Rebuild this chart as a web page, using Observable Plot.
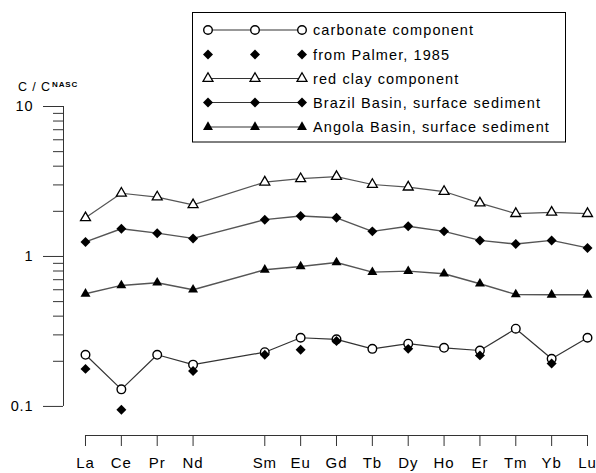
<!DOCTYPE html>
<html><head><meta charset="utf-8">
<script src="https://cdn.jsdelivr.net/npm/d3@7"></script>
<script src="https://cdn.jsdelivr.net/npm/@observablehq/plot@0.6"></script>
<style>
body{margin:0;background:#fff;}
#wrap{position:relative;width:596px;height:473px;}
#wrap svg text{letter-spacing:0.9px;}
#wrap svg text.leg{letter-spacing:1.1px;}
</style></head><body><div id="wrap"></div>
<script>
// ---- data ----
const elements = ["La","Ce","Pr","Nd","Sm","Eu","Gd","Tb","Dy","Ho","Er","Tm","Yb","Lu"];
const atomicNumbers = [57,58,59,60,62,63,64,65,66,67,68,69,70,71];
const carbonate = [0.221,0.130,0.221,0.190,0.230,0.287,0.280,0.242,0.262,0.246,0.236,0.330,0.208,0.287];
const redClay   = [1.81,2.64,2.49,2.21,3.13,3.30,3.41,3.02,2.90,2.71,2.27,1.93,1.97,1.93];
const brazil    = [1.25,1.53,1.43,1.32,1.76,1.86,1.81,1.47,1.59,1.47,1.28,1.21,1.28,1.14];
const angola    = [0.564,0.641,0.668,0.600,0.815,0.858,0.912,0.786,0.798,0.767,0.658,0.558,0.555,0.555];
const palmerElements = ["La","Ce","Nd","Sm","Eu","Gd","Dy","Er","Yb"];
const palmer    = [0.178,0.095,0.172,0.221,0.239,0.273,0.242,0.219,0.193];
const yMajorTicks = [0.1,1,10];
const yMajorLabels = ["0.1","1","10"];
const yMinorTicks = [0.2,0.3,0.4,0.5,0.6,0.7,0.8,0.9,2,3,4,5,6,7,8,9];
const legendLabels = ["carbonate component","from Palmer, 1985","red clay component","Brazil Basin, surface sediment","Angola Basin, surface sediment"];
const yTitle = "C / C";
const yTitleSup = "NASC";

// ---- tables ----
const zOf = Object.fromEntries(elements.map((e,i)=>[e,atomicNumbers[i]]));
const series = (vals) => elements.map((e,i)=>({el:e, z:atomicNumbers[i], v:vals[i]}));
const carbRows = series(carbonate), redRows = series(redClay), brRows = series(brazil), anRows = series(angola);
const palRows = palmerElements.map((e,i)=>({el:e, z:zOf[e], v:palmer[i]}));

const xMin = 56.3865, xMax = 71, yMin = 0.064, yMax = 10;
const lineColor = "#555", font = "'Liberation Sans', Arial, sans-serif";

const chart = Plot.plot({
  width: 596, height: 473,
  marginLeft: 63, marginRight: 9, marginTop: 106, marginBottom: 38,
  style: {fontFamily: font, fontSize: "14px", color: "#000", background: "#fff"},
  x: {domain: [xMin, xMax], axis: null},
  y: {type: "log", domain: [yMin, yMax], axis: null},
  marks: [
    Plot.ruleX([xMin], {y1: yMajorTicks[0], y2: yMajorTicks[2], stroke: "#333"}),
    Plot.ruleY([yMin], {x1: atomicNumbers[0], x2: atomicNumbers[atomicNumbers.length-1], stroke: "#333"}),
    Plot.axisY(yMajorTicks, {anchor: "left", label: null, tickSize: 20, tickPadding: 10, stroke: "#333", tickFormat: (d)=>yMajorLabels[yMajorTicks.indexOf(d)], fontSize: 14.5}),
    Plot.axisY(yMinorTicks, {anchor: "left", label: null, tickSize: 10, stroke: "#333", tickFormat: () => ""}),
    Plot.axisX(atomicNumbers, {anchor: "bottom", label: null, tickSize: 11, tickPadding: 11, stroke: "#333", tickFormat: d => elements[atomicNumbers.indexOf(d)], fontSize: 15}),
    Plot.line(carbRows, {x: "z", y: "v", stroke: "#333", strokeWidth: 1.2}),
    Plot.line(redRows, {x: "z", y: "v", stroke: lineColor, strokeWidth: 1.2}),
    Plot.line(brRows, {x: "z", y: "v", stroke: lineColor, strokeWidth: 1.4}),
    Plot.line(anRows, {x: "z", y: "v", stroke: lineColor, strokeWidth: 1.4}),
    Plot.dot(carbRows, {x: "z", y: "v", symbol: "circle", r: 4.3, fill: "#fff", stroke: "#000", strokeWidth: 1.4}),
    Plot.dot(palRows, {x: "z", y: "v", symbol: "diamond2", r: 4.5, fill: "#000", stroke: "none"}),
    Plot.dot(redRows, {x: "z", y: "v", symbol: "triangle", r: 3.7, fill: "#fff", stroke: "#000", strokeWidth: 1.3}),
    Plot.dot(brRows, {x: "z", y: "v", symbol: "diamond2", r: 4.5, fill: "#000", stroke: "none"}),
    Plot.dot(anRows, {x: "z", y: "v", symbol: "triangle", r: 3.7, fill: "#000", stroke: "none"})
  ]
});
document.getElementById("wrap").appendChild(chart);

// ---- y title ----
const svg = d3.select(chart);
const t = svg.append("text").attr("x", 18).attr("y", 91).attr("text-anchor", "start").attr("font-size", 12.5).attr("font-family", font).attr("fill", "#000").text(yTitle);
t.append("tspan").attr("font-size", 8).attr("font-weight", "bold").attr("dy", -4.5).attr("dx", 1).text(yTitleSup);

// ---- legend ----
const lg = svg.append("g");
lg.append("rect").attr("x", 192.5).attr("y", 12.5).attr("width", 373).attr("height", 129.5).attr("fill", "#fff").attr("stroke", "#000").attr("stroke-width", 1);
const rowY = [30, 54.5, 78.5, 102.5, 127];
const symX = [208, 255, 302];
const specs = [
  {sym: d3.symbolCircle, r: 4.3, fill: "#fff", stroke: "#000", sw: 1.4, line: "#333"},
  {sym: d3.symbolDiamond2, r: 4.5, fill: "#000", stroke: "none", sw: 0, line: null},
  {sym: d3.symbolTriangle, r: 3.7, fill: "#fff", stroke: "#000", sw: 1.3, line: "#333"},
  {sym: d3.symbolDiamond2, r: 4.5, fill: "#000", stroke: "none", sw: 0, line: "#333"},
  {sym: d3.symbolTriangle, r: 3.7, fill: "#000", stroke: "none", sw: 0, line: "#333"}
];
specs.forEach((s, i) => {
  const y = rowY[i];
  if (s.line) lg.append("line").attr("x1", symX[0]).attr("x2", symX[2]).attr("y1", y).attr("y2", y).attr("stroke", s.line).attr("stroke-width", 1.2);
  const path = d3.symbol(s.sym, Math.PI * s.r * s.r)();
  symX.forEach(x => lg.append("path").attr("d", path).attr("transform", `translate(${x},${y})`).attr("fill", s.fill).attr("stroke", s.stroke).attr("stroke-width", s.sw));
  lg.append("text").attr("class", "leg").attr("x", 313).attr("y", y).attr("dy", "0.36em").attr("text-anchor", "start").attr("font-size", 14.5).attr("font-family", font).attr("fill", "#000").text(legendLabels[i]);
});
</script></body></html>
